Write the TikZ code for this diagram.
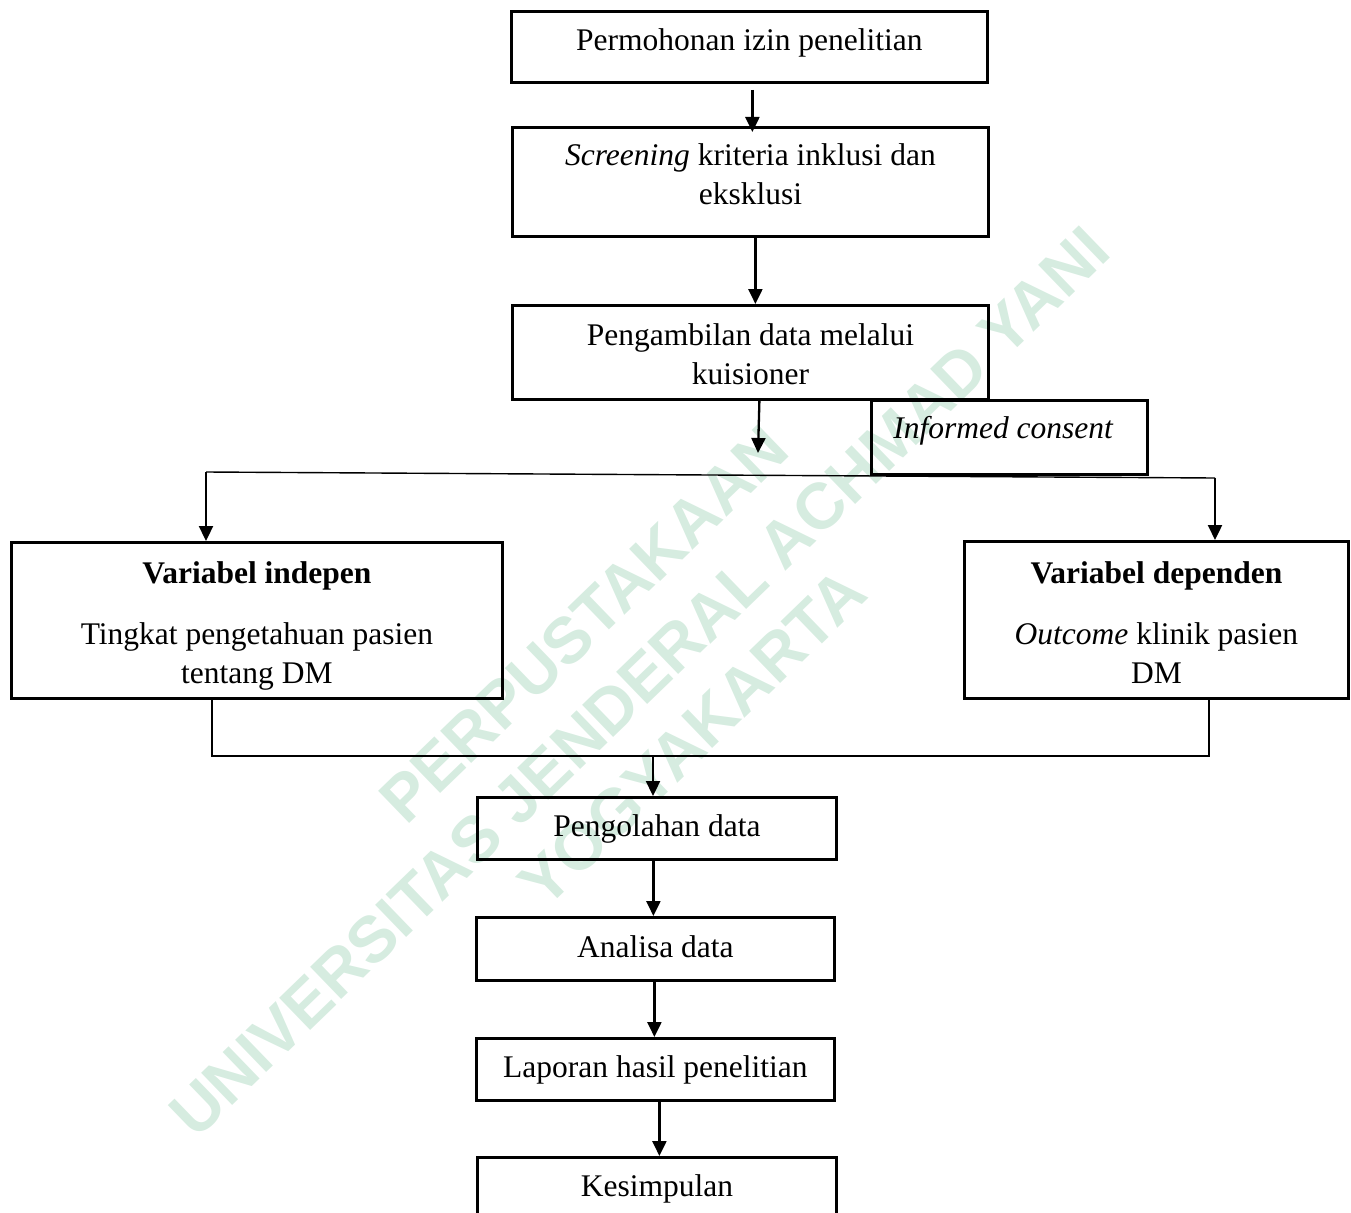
\documentclass[tikz,border=0pt]{standalone}
\usepackage{fontspec}
\setmainfont{Liberation Serif}
\newfontfamily\wmfont{Liberation Sans}
\usetikzlibrary{arrows.meta}
\definecolor{wm}{RGB}{214,236,224}
\begin{document}
\begin{tikzpicture}[x=1pt,y=-1pt,
  box/.style={draw, line width=2.8pt, inner xsep=0pt, inner ysep=0pt, anchor=north west, align=center, font=\fontsize{31.5}{38.7}\selectfont},
  arr/.style={line width=2.3pt, -{Triangle[length=15pt,width=14pt]}},
  thinline/.style={line width=1.4pt},
  wmtext/.style={text=wm, font=\wmfont\bfseries\fontsize{65}{65}\selectfont, rotate=44, inner sep=0pt}]
\useasboundingbox (0,0) rectangle (1351,1212);
\clip (0,0) rectangle (1351,1212);
% watermark
\node[wmtext] (w1) at (584,624) {PERPUSTAKAAN};
\node[wmtext] (w2) at (639,682) {UNIVERSITAS JENDERAL ACHMAD YANI};
\node[wmtext] (w3) at (692,738) {YOGYAKARTA};
% boxes
\node[box, minimum width=476pt, text height=39pt, text depth=32pt] (b1) at (510,10) {Permohonan izin penelitian};
\node[box, minimum width=476pt, text height=77pt, text depth=32pt] (b2) at (511,126) {\textit{Screening} kriteria inklusi dan\\eksklusi};
\node[box, minimum width=476pt, text height=79pt, text depth=15pt] (b3) at (511,304) {Pengambilan data melalui\\kuisioner};
\node[box, minimum width=276pt, text height=38pt, text depth=36pt] (b4) at (870,399) {\textit{Informed consent}\hspace*{12pt}};
\node[box, minimum width=491pt, text height=141pt, text depth=15pt] (b5) at (10,541) {\textbf{Variabel indepen}\\[22.3pt]Tingkat pengetahuan pasien\\tentang DM};
\node[box, minimum width=384pt, text height=142pt, text depth=15pt] (b6) at (963,540) {\textbf{Variabel dependen}\\[22.3pt]\textit{Outcome} klinik pasien\\DM};
\node[box, minimum width=359pt, text height=39pt, text depth=23pt] (b7) at (476,796) {Pengolahan data};
\node[box, minimum width=358pt, text height=40pt, text depth=23pt] (b8) at (475,916) {Analisa data};
\node[box, minimum width=358pt, text height=39pt, text depth=23pt] (b9) at (475,1037) {Laporan hasil penelitian};
\node[box, minimum width=359pt, text height=39pt, text depth=40pt] (b10) at (476,1156) {Kesimpulan};
% connectors
\coordinate (a3e) at (758,453);
\coordinate (sl) at (206,472);
\coordinate (sr) at (1215,478);
\coordinate (jl) at (212,756);
\coordinate (jr) at (1209,756);
\coordinate (jm) at (653,756);
\draw[arr] ([xshift=3pt,yshift=-6pt]b1.south) -- ([xshift=3pt,yshift=-6pt]b1.south |- b2.north);
\draw[arr] ([xshift=5pt]b2.south) -- ([xshift=5pt]b2.south |- b3.north);
\draw[arr] ([xshift=9pt]b3.south) -- (a3e);
\draw[thinline] (sl) -- (sr);
\draw[arr] (sl) -- (sl |- b5.north);
\draw[arr] (sr) -- (sr |- b6.north);
\draw[thinline] (jl |- b5.south) -- (jl) -- (jr) -- (jr |- b6.south);
\draw[arr] (jm) -- (jm |- b7.north);
\draw[arr] ([xshift=-3.5pt]b7.south) -- ([xshift=-3.5pt]b7.south |- b8.north);
\draw[arr] ([xshift=-1pt]b8.south) -- ([xshift=-1pt]b8.south |- b9.north);
\draw[arr] ([xshift=4pt]b9.south) -- ([xshift=4pt]b9.south |- b10.north);
\end{tikzpicture}
\end{document}
